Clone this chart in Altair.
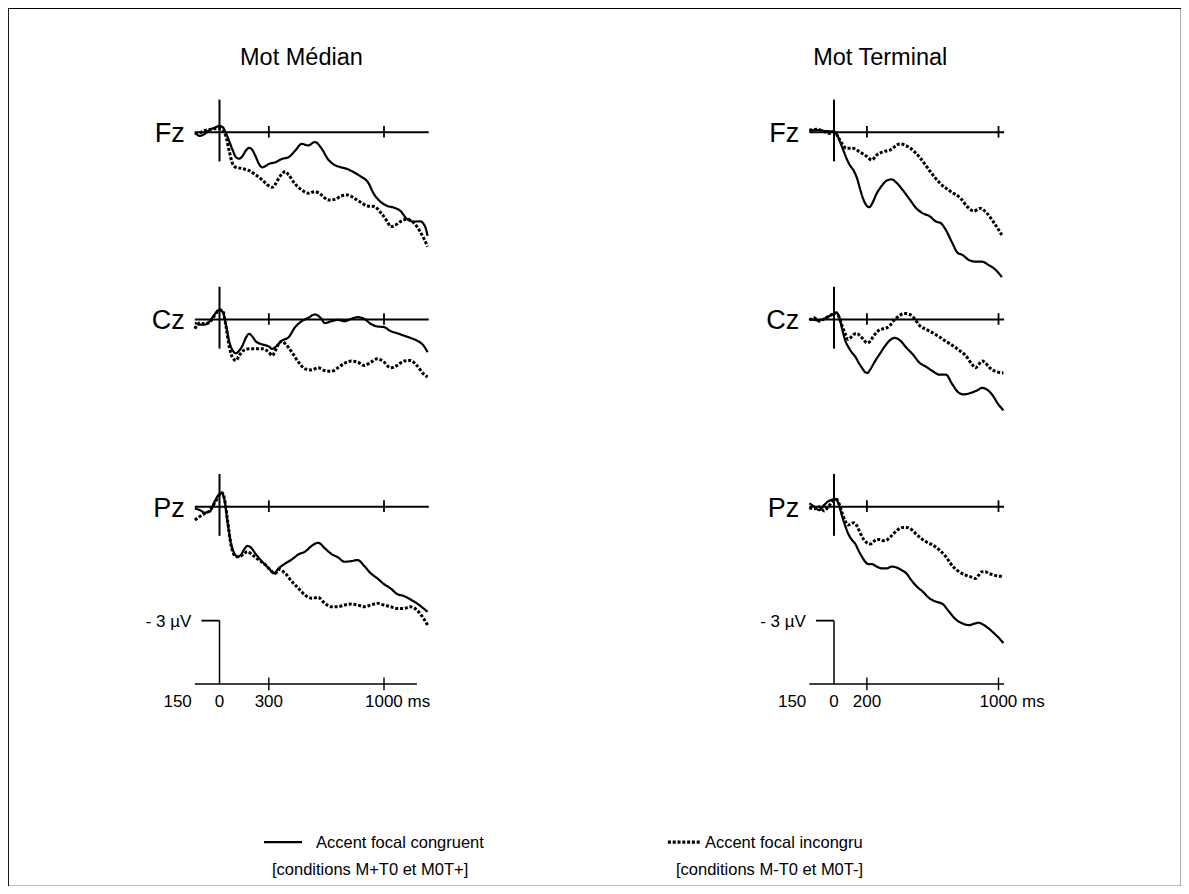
import altair as alt
import pandas as pd

FONT = "Liberation Sans"

# ---------------- data (time in ms, amplitude in µV, positive plotted downwards) -------------
# Mot Médian (left column)
med_fz_cong_t = [-150,-120,-90,-60,-30,0,20,40,60,80,100,120,140,160,180,200,220,240,260,280,300,340,380,420,460,500,540,580,620,660,700,740,780,820,860,900,940,980,1020,1060,1100,1140,1180,1220,1250,1265]
med_fz_cong_v = [0.02,0.17,0.08,-0.11,-0.22,-0.30,-0.24,0.05,0.44,0.84,1.18,1.25,1.12,0.87,0.74,0.84,1.15,1.50,1.66,1.60,1.50,1.42,1.26,1.18,0.87,0.55,0.62,0.46,0.76,1.28,1.55,1.66,1.75,1.91,2.10,2.34,2.94,3.30,3.49,3.57,3.73,4.11,4.23,4.22,4.47,4.91]
med_fz_inc_t = [-150,-120,-90,-60,-30,0,20,40,60,80,100,140,180,220,260,300,320,340,360,380,400,420,460,500,540,580,620,660,700,740,780,820,860,900,940,980,1020,1040,1060,1100,1140,1180,1220,1265]
med_fz_inc_v = [0.05,0.02,-0.08,-0.13,-0.17,-0.19,-0.11,0.21,0.92,1.50,1.66,1.72,1.82,2.02,2.26,2.54,2.61,2.45,2.18,1.97,1.86,2.02,2.45,2.73,2.89,2.81,2.97,3.21,3.18,3.02,2.97,3.13,3.33,3.49,3.52,3.81,4.23,4.47,4.44,4.23,4.12,4.28,4.71,5.42]

med_cz_cong_t = [-150,-120,-90,-60,-30,0,20,40,60,80,100,120,140,160,180,200,220,260,300,320,340,360,380,420,460,500,540,580,620,640,680,720,760,800,840,880,920,960,1000,1040,1080,1120,1160,1200,1240,1265]
med_cz_cong_v = [0.15,0.24,0.24,0.08,-0.24,-0.46,-0.35,0.28,1.07,1.47,1.60,1.47,1.23,0.87,0.68,0.81,1.03,1.18,1.28,1.39,1.31,1.15,1.00,0.84,0.36,0.08,-0.08,-0.24,-0.03,0.17,0.08,0.02,0.08,-0.03,-0.11,-0.03,0.21,0.33,0.36,0.55,0.65,0.76,0.87,1.00,1.23,1.55]
med_cz_inc_t = [-150,-120,-90,-60,-30,0,20,40,60,80,100,120,140,180,220,260,300,320,340,360,380,400,440,480,520,560,600,640,680,720,760,800,840,880,920,960,1000,1040,1080,1120,1160,1200,1240,1265]
med_cz_inc_v = [0.44,0.17,0.21,0.13,-0.19,-0.46,-0.39,0.36,1.31,1.82,1.94,1.71,1.50,1.39,1.39,1.39,1.55,1.71,1.47,1.15,1.03,1.15,1.55,2.02,2.34,2.39,2.29,2.42,2.45,2.29,2.07,1.97,2.02,2.18,2.02,1.86,2.02,2.29,2.18,1.97,1.94,2.18,2.58,2.73]

med_pz_cong_t = [-150,-120,-90,-60,-30,0,15,30,50,70,90,110,130,150,170,190,220,260,300,330,360,400,440,480,520,560,600,640,680,720,760,800,840,880,920,960,1000,1040,1080,1120,1160,1200,1240,1265]
med_pz_cong_v = [0.08,0.16,0.28,0.24,-0.24,-0.60,-0.63,-0.32,0.79,1.74,2.21,2.37,2.29,2.02,1.86,1.93,2.24,2.61,2.92,3.16,2.92,2.69,2.50,2.26,2.13,1.86,1.71,1.97,2.24,2.40,2.61,2.58,2.53,2.81,3.16,3.40,3.67,3.87,4.14,4.23,4.39,4.58,4.82,4.98]
med_pz_inc_t = [-150,-120,-90,-60,-30,0,15,30,50,70,90,110,130,150,170,200,240,280,320,340,360,400,440,480,520,560,600,640,680,720,760,800,840,880,920,960,1000,1040,1080,1120,1160,1200,1240,1265]
med_pz_inc_v = [0.63,0.47,0.32,0.19,-0.16,-0.55,-0.66,-0.39,0.71,1.82,2.29,2.37,2.34,2.21,2.13,2.29,2.53,2.76,3.08,3.16,2.97,3.16,3.55,3.87,4.19,4.34,4.30,4.58,4.74,4.74,4.66,4.61,4.66,4.74,4.66,4.58,4.66,4.74,4.82,4.82,4.74,4.90,5.29,5.61]

# Mot Terminal (right column)
ter_fz_cong_t = [-150,-100,-50,0,20,40,60,80,100,120,140,160,180,200,215,230,260,290,320,350,380,420,460,500,540,580,620,650,680,720,750,780,820,860,900,940,980,1020]
ter_fz_cong_v = [-0.08,-0.11,-0.06,-0.03,0.13,0.52,0.92,1.31,1.60,1.82,2.18,2.73,3.21,3.49,3.55,3.40,2.89,2.54,2.29,2.23,2.39,2.76,3.18,3.60,3.84,3.97,4.23,4.31,4.63,5.26,5.70,5.81,6.05,6.13,6.13,6.29,6.50,6.86]
ter_fz_inc_t = [-150,-100,-60,-30,0,35,75,115,155,200,230,260,300,340,400,465,525,585,645,710,770,810,850,890,930,975,1020]
ter_fz_inc_v = [-0.11,-0.14,-0.03,0.05,-0.03,0.36,0.76,0.76,0.92,1.15,1.31,1.07,0.92,0.84,0.55,0.76,1.23,1.86,2.42,2.81,3.13,3.52,3.73,3.60,3.84,4.31,4.87]

ter_cz_cong_t = [-150,-110,-70,-30,0,15,30,50,70,90,110,130,150,170,190,205,220,250,280,310,340,370,400,440,480,520,560,600,640,680,720,760,790,830,870,900,930,960,1000,1030]
ter_cz_cong_v = [-0.03,0.03,0.00,-0.16,-0.27,-0.32,-0.16,0.47,1.03,1.34,1.58,1.77,2.05,2.29,2.50,2.53,2.37,1.97,1.61,1.26,0.98,0.87,0.98,1.34,1.66,2.05,2.24,2.45,2.61,2.61,3.08,3.48,3.55,3.48,3.36,3.24,3.32,3.55,4.03,4.30]
ter_cz_inc_t = [-150,-120,-90,-60,-30,0,15,30,50,70,85,100,120,140,160,180,200,220,240,260,280,300,320,340,360,380,400,420,440,460,480,500,520,560,600,640,680,720,760,800,840,860,880,900,920,940,960,1000,1030]
ter_cz_inc_v = [0.03,-0.08,0.08,-0.03,-0.16,-0.28,-0.32,-0.13,0.32,0.71,0.95,0.87,0.71,0.66,0.79,0.95,1.11,1.03,0.79,0.60,0.47,0.44,0.40,0.28,0.08,-0.08,-0.19,-0.28,-0.28,-0.24,-0.13,0.08,0.28,0.47,0.63,0.82,1.03,1.23,1.45,1.71,2.13,2.29,2.13,1.97,2.05,2.24,2.37,2.50,2.53]

ter_pz_cong_t = [-150,-120,-90,-60,-30,0,15,30,50,70,90,110,130,150,170,190,210,230,260,290,320,350,380,410,440,470,500,540,580,620,660,700,740,780,820,860,880,900,940,980,1000,1030]
ter_pz_cong_v = [-0.16,0.00,0.16,-0.08,-0.28,-0.35,-0.32,-0.08,0.47,0.95,1.34,1.58,1.77,2.09,2.37,2.61,2.72,2.72,2.84,2.92,2.92,2.84,2.88,3.00,3.16,3.48,3.76,4.03,4.34,4.50,4.61,4.98,5.34,5.53,5.61,5.53,5.50,5.56,5.77,6.05,6.20,6.46]
ter_pz_inc_t = [-150,-120,-90,-60,-30,0,15,30,50,70,85,100,120,140,160,180,200,220,240,260,280,300,320,340,360,380,400,420,440,460,480,500,530,560,600,640,680,720,760,800,840,860,880,900,920,940,960,1000,1030]
ter_pz_inc_v = [0.05,0.10,0.00,0.20,-0.05,-0.32,-0.35,-0.16,0.32,0.71,0.87,0.82,0.76,0.92,1.26,1.55,1.71,1.77,1.66,1.55,1.55,1.61,1.58,1.45,1.30,1.14,1.03,0.98,0.98,1.03,1.14,1.30,1.50,1.66,1.82,2.05,2.37,2.81,3.08,3.24,3.35,3.40,3.24,3.08,3.08,3.16,3.21,3.29,3.30]

column_titles = ["Mot Médian", "Mot Terminal"]
electrodes = ["Fz", "Cz", "Pz"]
tick_times = [[300, 1000], [200, 1000]]
legend_labels = ["Accent focal congruent", "Accent focal incongru"]
legend_sublabels = ["[conditions M+T0 et M0T+]", "[conditions M-T0 et M0T-]"]
scale_label = "- 3 µV"
scale_uv = 3

series = [
    (0, 0, "cong", med_fz_cong_t, med_fz_cong_v), (0, 0, "inc", med_fz_inc_t, med_fz_inc_v),
    (0, 1, "cong", med_cz_cong_t, med_cz_cong_v), (0, 1, "inc", med_cz_inc_t, med_cz_inc_v),
    (0, 2, "cong", med_pz_cong_t, med_pz_cong_v), (0, 2, "inc", med_pz_inc_t, med_pz_inc_v),
    (1, 0, "cong", ter_fz_cong_t, ter_fz_cong_v), (1, 0, "inc", ter_fz_inc_t, ter_fz_inc_v),
    (1, 1, "cong", ter_cz_cong_t, ter_cz_cong_v), (1, 1, "inc", ter_cz_inc_t, ter_cz_inc_v),
    (1, 2, "cong", ter_pz_cong_t, ter_pz_cong_v), (1, 2, "inc", ter_pz_inc_t, ter_pz_inc_v),
]

# ---------------- layout (one canvas; each panel is an offset in ms / µV) -------------
W, H = 1173, 878
PX_MS, PX_UV = 0.1645, 21.1
X0, Y0 = 211.5, 124.3
COL_OFF, ROW_OFF = 3735.6, 8.872
AXIS_END = [1272, 1034]
BOTTOM_END = [1200, 1034]
BOTTOM_V = 2 * ROW_OFF + 8.40
XDOM = [-X0 / PX_MS, (W - X0) / PX_MS]
YDOM = [-Y0 / PX_UV, (H - Y0) / PX_UV]


def gx(c, t):
    return t + c * COL_OFF


def gy(r, v):
    return v + r * ROW_OFF


X = alt.X("xg:Q", scale=alt.Scale(domain=XDOM, nice=False, zero=False), axis=None)
Y = alt.Y("yg:Q", scale=alt.Scale(domain=YDOM, nice=False, zero=False, reverse=True), axis=None)
DASH = alt.StrokeDash("cond:N", scale=alt.Scale(domain=["cong", "inc"], range=[[1, 0], [3, 1.8]]), legend=None)

rows = []
for c, r, cond, ts, vs in series:
    for t, v in zip(ts, vs):
        rows.append({"series": f"{c}-{r}-{cond}", "cond": cond, "sw": 2.2 if cond == "cong" else 3.0,
                     "xg": gx(c, t), "yg": gy(r, v)})
curves = pd.DataFrame(rows)

seg = []
def add(x1, y1, x2, y2, sw):
    seg.append({"xg": x1, "yg": y1, "xg2": x2, "yg2": y2, "sw": sw})

for c in range(2):
    for r in range(3):
        add(gx(c, -150), gy(r, 0), gx(c, AXIS_END[c]), gy(r, 0), 2)
        add(gx(c, 0), gy(r, -1.55), gx(c, 0), gy(r, 1.38), 2)
        for tt in tick_times[c]:
            add(gx(c, tt), gy(r, -0.3), gx(c, tt), gy(r, 0.25), 1.8)
    add(gx(c, -150), BOTTOM_V, gx(c, BOTTOM_END[c]), BOTTOM_V, 1.5)
    for tt in tick_times[c]:
        add(gx(c, tt), BOTTOM_V - 0.3, gx(c, tt), BOTTOM_V + 0.3, 1.4)
    add(gx(c, 0), BOTTOM_V - scale_uv, gx(c, 0), BOTTOM_V, 1.5)
    add(gx(c, -110), BOTTOM_V - scale_uv, gx(c, 0), BOTTOM_V - scale_uv, 1.8)
segs = pd.DataFrame(seg)

line_layer = alt.Chart(curves).mark_line(interpolate="monotone", color="black").encode(
    x=X, y=Y, detail="series:N", strokeDash=DASH, strokeWidth=alt.StrokeWidth("sw:Q", scale=None))

rule_layer = alt.Chart(segs).mark_rule(color="black").encode(
    x=X, y=Y, x2="xg2:Q", y2="yg2:Q", strokeWidth=alt.StrokeWidth("sw:Q", scale=None))


def text_layer(items, **kw):
    df = pd.DataFrame(items, columns=["label", "xg", "yg"])
    return alt.Chart(df).mark_text(font=FONT, color="black", **kw).encode(x=X, y=Y, text="label:N")


titles = text_layer([(column_titles[0], gx(0, 498), -3.17), (column_titles[1], gx(1, 281), -3.17)],
                    fontSize=23.5, align="center", baseline="alphabetic")
elec = text_layer([(electrodes[r], gx(c, -150), gy(r, 0)) for c in range(2) for r in range(3)],
                  fontSize=27, align="right", baseline="alphabetic", dx=-10, dy=10)
tl_center = text_layer([("0", gx(c, 0), BOTTOM_V) for c in range(2)] +
                       [(str(tick_times[c][0]), gx(c, tick_times[c][0]), BOTTOM_V) for c in range(2)],
                       fontSize=17, align="center", baseline="alphabetic", dy=23)
tl_left = text_layer([("150", gx(c, -150), BOTTOM_V) for c in range(2)],
                     fontSize=17, align="right", baseline="alphabetic", dx=-3, dy=23)
tl_ms = text_layer([(f"{tick_times[c][1]} ms", gx(c, tick_times[c][1]), BOTTOM_V) for c in range(2)],
                   fontSize=17, align="left", baseline="alphabetic", dx=-19, dy=23)
uv = text_layer([(scale_label, gx(c, -110), BOTTOM_V - scale_uv) for c in range(2)],
                fontSize=17, align="right", baseline="alphabetic", dx=-10, dy=6)

# legend (placed in the lower band of the canvas)
LEG_Y = 33.64
leg_lines = pd.DataFrame([
    {"xg": 270.5, "xg2": 501.5, "yg": LEG_Y, "cond": "cong", "sw": 2.4},
    {"xg": 2726.0, "xg2": 2921.0, "yg": LEG_Y, "cond": "inc", "sw": 3.2},
])
leg_rule = alt.Chart(leg_lines).mark_rule(color="black").encode(
    x=X, x2="xg2:Q", y=Y, strokeDash=DASH, strokeWidth=alt.StrokeWidth("sw:Q", scale=None))
leg_text = text_layer([(legend_labels[0], 586.6, 33.92), (legend_labels[1], 2951.0, 33.92),
                       (legend_sublabels[0], 319.0, 35.19), (legend_sublabels[1], 2775.0, 35.19)],
                      fontSize=16.5, align="left", baseline="alphabetic")

chart = alt.layer(rule_layer, line_layer, titles, elec, tl_center, tl_left, tl_ms, uv, leg_rule, leg_text).properties(
    width=W, height=H, padding=0, autosize=alt.AutoSizeParams(type="none"), background="white"
).configure_view(stroke="black", strokeWidth=1.2)

chart.save("out.html", embed_options={"renderer": "svg", "actions": False})
